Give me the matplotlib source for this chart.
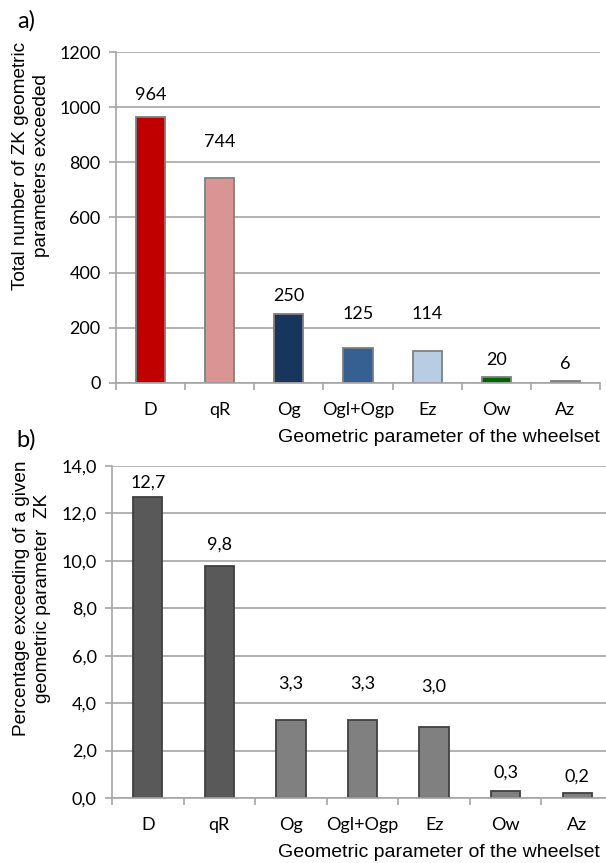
import matplotlib
matplotlib.use('Agg')
import matplotlib.pyplot as plt
import numpy as np

# data
params = ['D', 'qR', 'Og', 'Ogl+Ogp', 'Ez', 'Ow', 'Az']
counts = [964, 744, 250, 125, 114, 20, 6]
percents = [12.7, 9.8, 3.3, 3.3, 3.0, 0.3, 0.2]
count_ticks = [0, 200, 400, 600, 800, 1000, 1200]
percent_ticks = [0.0, 2.0, 4.0, 6.0, 8.0, 10.0, 12.0, 14.0]

# styling
count_colors = ['#C00000', '#D99594', '#17365D', '#366092', '#B8CCE4', '#006600', '#7F7F7F']
percent_colors = ['#595959', '#595959', '#808080', '#808080', '#808080', '#808080', '#808080']
# label heights above the bars (pixels), they were dragged by hand in the original
count_lift = [22, 36, 18, 34, 37, 17, 17]
percent_lift = [14, 21, 36, 36, 40, 18, 17]

num_font = 'Lato'
txt_font = 'Liberation Sans'
grid_c = '#A6A6A6'
num_size = 13

fig = plt.figure(figsize=(6.06, 8.63), dpi=100)


def style_axes(ax, ticks, fmt):
    x = np.arange(len(params))
    ax.set_xlim(-0.5, len(params) - 0.5)
    ax.set_ylim(ticks[0], ticks[-1])
    ax.set_yticks(ticks)
    ax.set_yticklabels([fmt(t) for t in ticks], fontfamily=num_font, fontsize=num_size)
    ax.set_xticks(x)
    ax.set_xticklabels(params, fontfamily=num_font, fontsize=num_size)
    ax.set_xticks(np.arange(len(params) + 1) - 0.5, minor=True)
    ax.tick_params(axis='x', which='major', length=0, pad=14)
    ax.tick_params(axis='x', which='minor', length=5, width=1.2, color=grid_c)
    ax.tick_params(axis='y', length=5, width=1.2, color=grid_c, pad=6)
    ax.yaxis.grid(True, color=grid_c, linewidth=1.2)
    ax.set_axisbelow(True)
    for s in ['top', 'right']:
        ax.spines[s].set_visible(False)
    for s in ['left', 'bottom']:
        ax.spines[s].set_color(grid_c)
        ax.spines[s].set_linewidth(1.2)


# a) counts
ax1 = fig.add_axes([116 / 606, 1 - 382.7 / 863, 484 / 606, 330.4 / 863])
style_axes(ax1, count_ticks, lambda t: '%d' % t)
x = np.arange(len(params))
ax1.bar(x, counts, width=0.42, color=count_colors, edgecolor='#7F7F7F', linewidth=1.3)
for xi, v, lift in zip(x, counts, count_lift):
    ax1.annotate(str(v), (xi, v), xytext=(0, lift * 0.72), textcoords='offset points',
                 ha='center', va='center', fontfamily=num_font, fontsize=num_size)

# b) percentages
ax2 = fig.add_axes([112 / 606, 1 - 798 / 863, 501 / 606, 332 / 863])
style_axes(ax2, percent_ticks, lambda t: ('%.1f' % t).replace('.', ','))
ax2.bar(x, percents, width=0.41, color=percent_colors, edgecolor='#404040', linewidth=1.3)
for xi, v, lift in zip(x, percents, percent_lift):
    ax2.annotate(('%.1f' % v).replace('.', ','), (xi, v), xytext=(0, lift * 0.72),
                 textcoords='offset points', ha='center', va='center',
                 fontfamily=num_font, fontsize=num_size)

# texts
fig.text(26 / 606, 1 - 21 / 863, 'a)', fontfamily=num_font, fontsize=17, ha='center', va='center')
fig.text(26 / 606, 1 - 440 / 863, 'b)', fontfamily=num_font, fontsize=17, ha='center', va='center')
fig.text(31 / 606, 1 - 166 / 863, 'Total number of ZK geometric\nparameters exceeded',
         rotation=90, ha='center', va='center', multialignment='center',
         fontfamily=txt_font, fontsize=13.7, linespacing=1.25)
fig.text(32 / 606, 1 - 598 / 863, 'Percentage exceeding of a given\ngeometric parameter  ZK',
         rotation=90, ha='center', va='center', multialignment='center',
         fontfamily=txt_font, fontsize=13.7, linespacing=1.3)
fig.text(600 / 606, 1 - 437 / 863, 'Geometric parameter of the wheelset',
         ha='right', va='center', fontfamily=txt_font, fontsize=14)
fig.text(600 / 606, 1 - 852 / 863, 'Geometric parameter of the wheelset',
         ha='right', va='center', fontfamily=txt_font, fontsize=14)

fig.savefig('out.png', dpi=100)
